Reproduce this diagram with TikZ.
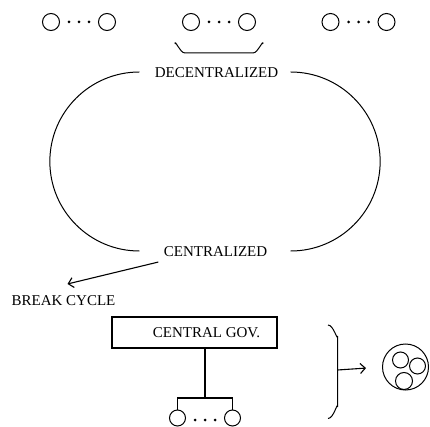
\documentclass[tikz,border=0pt]{standalone}
\usepackage{fontspec}
\setmainfont{Liberation Serif}
\usepackage{tikz}
\usetikzlibrary{arrows.meta, positioning, calc}

\tikzset{
  unit/.style={circle, draw, line width=1pt, minimum size=17pt, inner sep=0pt},
  smallunit/.style={circle, draw, line width=1pt, minimum size=16pt, inner sep=0pt},
  dotnode/.style={circle, fill, minimum size=3pt, inner sep=0pt},
  lbl/.style={inner sep=0pt, font=\fontsize{15}{18}\selectfont},
  arr/.style={-{Straight Barb[length=5pt, width=10pt, line width=1.1pt]}, line width=1.1pt},
}

\begin{document}
\begin{tikzpicture}[x=1pt, y=-1pt, line width=1pt]
    \useasboundingbox (0,0) rectangle (430,427);

    % top groups
    \node[unit] (a1) at (51,22) {};
    \node[unit] (a2) at (107,22) {};
    \node[unit] (b1) at (191,22) {};
    \node[unit] (b2) at (247,22) {};
    \node[unit] (c1) at (330.5,22) {};
    \node[unit] (c2) at (386.5,22) {};
    \foreach \g in {79,219,358.5} {
        \node[dotnode] at (\g-10,22) {};
        \node[dotnode] at (\g,22) {};
        \node[dotnode] at (\g+10,22) {};
    }

    % brace under middle group
    \draw (175,44) to[out=90, in=180] (185,53) -- (253,53) to[out=0, in=90] (263,44);

    % cycle
    \node[lbl] (dec) at (216.5,73) {DECENTRALIZED};
    \node[lbl] (cen) at (215.5,251.5) {CENTRALIZED};
    \draw (dec.west) ++(-15,-1) arc[start angle=-90, end angle=-270, radius=89.5];
    \draw (dec.east) ++(12,-1) arc[start angle=-90, end angle=90, radius=89.5];

    % break
    \node[lbl] (brk) at (63.5,300.5) {BREAK CYCLE};
    \draw[arr] ([shift={(-5,5)}]cen.south west) -- ([shift={(4,-11)}]brk.north);

    % central government
    \node[rectangle, draw, line width=1.2pt, minimum width=165pt, minimum height=31pt,
          font=\fontsize{15}{18}\selectfont] (gov) at (194.5,332.5) {\hspace*{24pt}CENTRAL GOV.};
    \coordinate (j) at (205,398);
    \node[smallunit] (u1) at (177.5,418) {};
    \node[smallunit] (u2) at (232.5,418) {};
    \node[dotnode] at (195,420) {};
    \node[dotnode] at (205,420) {};
    \node[dotnode] at (215,420) {};
    \draw[line width=1.2pt] (gov.south -| j) -- (j);
    \draw[line width=1.2pt] (u1.north) |- (j) -| (u2.north);

    % bracket and merged group
    \coordinate (brm) at (337.5,370);
    \draw (328,325) to[out=0, in=-90] (337.5,336) -- (brm) -- (337.5,407) to[out=90, in=0] (328,418.5);
    \node[circle, draw, minimum size=46pt, inner sep=0pt] (grp) at (405.5,367) {};
    \node[circle, draw, minimum size=16pt, inner sep=0pt] (m1) at (400.5,360) {};
    \node[circle, draw, minimum size=16pt, inner sep=0pt] (m2) at (417.5,366) {};
    \node[circle, draw, minimum size=17pt, inner sep=0pt] (m3) at (404,381) {};
    \draw[arr, shorten >=16pt] (brm) -- (grp.west);
\end{tikzpicture}
\end{document}
